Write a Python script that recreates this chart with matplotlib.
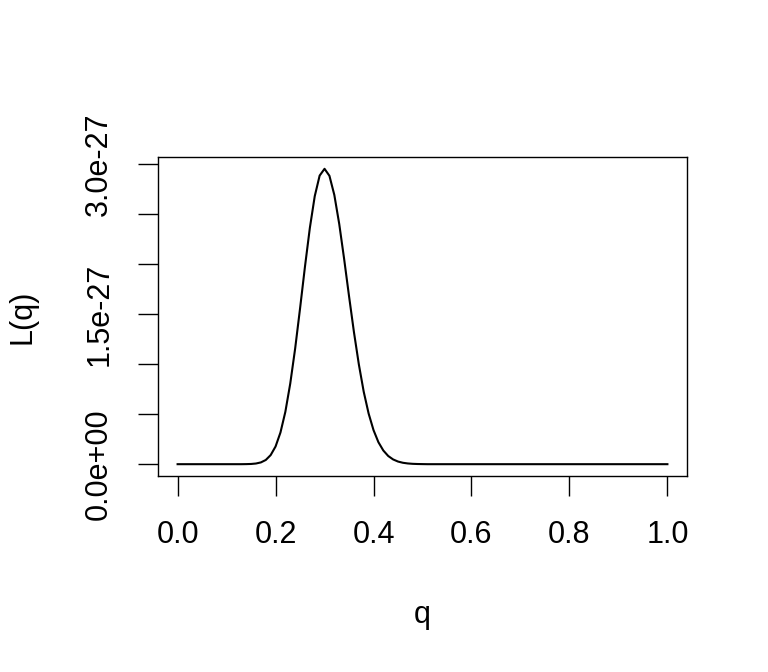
import numpy as np
import matplotlib
matplotlib.use("Agg")
import matplotlib.pyplot as plt

plt.rcParams['font.family'] = ['Liberation Sans', 'DejaVu Sans']

# likelihood curve, q on a 0.01 grid, L in units of 1e-27
q_grid = [round(i * 0.01, 2) for i in range(101)]
q_peak = [0.14, 0.15, 0.16, 0.17, 0.18, 0.19, 0.20, 0.21, 0.22, 0.23, 0.24,
          0.25, 0.26, 0.27, 0.28, 0.29, 0.30, 0.31, 0.32, 0.33, 0.34, 0.35,
          0.36, 0.37, 0.38, 0.39, 0.40, 0.41, 0.42, 0.43, 0.44, 0.45, 0.46,
          0.47, 0.48, 0.49, 0.50]
L_peak = [0.0007, 0.0022, 0.0067, 0.0177, 0.042, 0.091, 0.177, 0.317, 0.524,
          0.807, 1.157, 1.558, 1.975, 2.364, 2.682, 2.888, 2.956, 2.886, 2.694,
          2.404, 2.054, 1.682, 1.323, 1.000, 0.725, 0.507, 0.341, 0.220, 0.137,
          0.082, 0.0475, 0.0264, 0.0141, 0.0073, 0.0036, 0.0017, 0.0008]

y_ticks = [0.0, 0.5, 1.0, 1.5, 2.0, 2.5, 3.0]
y_labels = ['0.0e+00', '', '', '1.5e-27', '', '', '3.0e-27']
x_ticks = [0.0, 0.2, 0.4, 0.6, 0.8, 1.0]
x_labels = ['0.0', '0.2', '0.4', '0.6', '0.8', '1.0']

lookup = dict(zip(q_peak, L_peak))
L_vals = [lookup.get(q, 0.0) * 1e-27 for q in q_grid]

W, H = 768, 672
fs = 22
fig = plt.figure(figsize=(W / 100, H / 100), dpi=100)
left, right, top, bottom = 158, 687, 157, 476
ax = fig.add_axes([left / W, 1 - bottom / H, (right - left) / W, (bottom - top) / H])

ax.plot(q_grid, L_vals, color='black', linewidth=1.5)

ax.set_xlim(-0.04, 1.04)
ymax = max(L_vals)
ax.set_ylim(-0.04 * ymax, 1.04 * ymax)

ax.set_xticks(x_ticks)
ax.set_xticklabels(x_labels, fontsize=fs)
ax.set_yticks([v * 1e-27 for v in y_ticks])
ax.set_yticklabels(y_labels, fontsize=fs, rotation=90, va='center')

ax.tick_params(axis='both', direction='out', length=14.5, width=1.0, color='black')
ax.tick_params(axis='x', pad=17)
ax.tick_params(axis='y', pad=17)
for s in ax.spines.values():
    s.set_linewidth(1.0)

fig.text(422.5 / W, 1 - 615 / H, 'q', ha='center', va='center', fontsize=fs)
fig.text(23 / W, 1 - 317 / H, 'L(q)', ha='center', va='center', fontsize=fs, rotation=90)

fig.savefig('out.png', dpi=100, facecolor='white')
